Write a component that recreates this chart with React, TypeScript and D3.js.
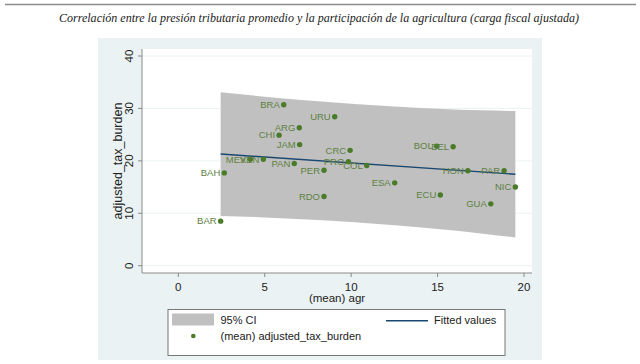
import React from "react";
import * as d3 from "d3";

// country codes, (mean) agr, (mean) adjusted_tax_burden
const countries = ["BRA", "ARG", "CHI", "JAM", "MEX", "VEN", "PAN", "BAH", "BAR", "PER", "RDO", "URU", "CRC", "PRO", "COL", "BOL", "BEL", "HON", "PAR", "ESA", "ECU", "NIC", "GUA"];
const agr = [6.1, 7.0, 5.83, 7.02, 4.17, 4.92, 6.71, 2.66, 2.45, 8.43, 8.43, 9.05, 9.94, 9.84, 10.9, 14.95, 15.9, 16.75, 18.85, 12.52, 15.16, 19.5, 18.08];
const taxBurden = [30.7, 26.3, 24.9, 23.1, 20.3, 20.3, 19.5, 17.7, 8.5, 18.2, 13.2, 28.4, 22.0, 19.85, 19.1, 22.8, 22.7, 18.1, 18.1, 15.8, 13.5, 15.0, 11.8];

// fitted values and 95% CI
const fitX = [2.45, 19.5];
const fitY = [21.3, 17.45];
const ciX = [2.45, 5, 7.5, 10.2, 12.5, 15, 17.5, 19.5];
const ciUpper = [33.1, 32.24, 31.51, 30.83, 30.36, 29.95, 29.64, 29.5];
const ciLower = [9.5, 9.2, 8.81, 8.27, 7.7, 6.99, 6.16, 5.4];

const xTicks = [0, 5, 10, 15, 20];
const yTicks = [0, 10, 20, 30, 40];

const title = "Correlación entre la presión tributaria promedio y la participación de la agricultura (carga fiscal ajustada)";

export default function App() {
  const width = 640;
  const height = 364;
  const plot = { left: 142, right: 532, top: 49, bottom: 273 };

  const x = d3.scaleLinear().domain([0, 20]).range([178.3, 524]);
  const y = d3.scaleLinear().domain([0, 40]).range([265.7, 56]);

  const band = d3
    .area<number>()
    .x((d, i) => x(ciX[i]))
    .y0((d, i) => y(ciLower[i]))
    .y1((d, i) => y(ciUpper[i]))
    .curve(d3.curveMonotoneX);

  const fitLine = d3
    .line<number>()
    .x((d, i) => x(fitX[i]))
    .y((d) => y(d));

  const sans = "'Liberation Sans', Arial, sans-serif";
  const axisColor = "#8a8a8a";
  const dotColor = "#4a7b27";
  const labelColor = "#5e8040";

  return (
    <svg width={width} height={height} style={{ position: "absolute", left: 0, top: 0 }}>
      <rect width={width} height={height} fill="#fff" />
      <line x1={5} x2={636} y1={4.5} y2={4.5} stroke="#8c8c8c" strokeWidth={1.6} />
      <text
        x={319}
        y={22}
        textAnchor="middle"
        fontFamily="'Liberation Serif', 'Times New Roman', serif"
        fontStyle="italic"
        fontSize={12.5}
        fill="#222"
        textLength={520}
        lengthAdjust="spacingAndGlyphs"
      >
        {title}
      </text>

      {/* graph region */}
      <rect x={98} y={38} width={444} height={322} fill="#eaf2f3" />
      <rect x={plot.left} y={plot.top} width={plot.right - plot.left} height={plot.bottom - plot.top} fill="#fff" />

      {/* grid */}
      {yTicks.map((t) => (
        <line key={"g" + t} x1={plot.left} x2={plot.right} y1={y(t)} y2={y(t)} stroke="#eaf2f3" strokeWidth={1} />
      ))}

      {/* CI band and fit */}
      <path d={band(ciX) || ""} fill="#c0c0c0" />
      <path d={fitLine(fitY) || ""} fill="none" stroke="#1a476f" strokeWidth={1.4} />

      {/* points */}
      {countries.map((c, i) => (
        <g key={c}>
          <circle cx={x(agr[i])} cy={y(taxBurden[i])} r={2.7} fill={dotColor} />
          <text
            x={x(agr[i]) - 4}
            y={y(taxBurden[i]) + 3.3}
            textAnchor="end"
            fontFamily={sans}
            fontSize={9.5}
            fill={labelColor}
          >
            {c}
          </text>
        </g>
      ))}

      {/* axes */}
      <line x1={plot.left} x2={plot.left} y1={plot.top} y2={plot.bottom} stroke={axisColor} strokeWidth={1} />
      <line x1={plot.left} x2={plot.right} y1={plot.bottom} y2={plot.bottom} stroke={axisColor} strokeWidth={1} />
      {yTicks.map((t) => (
        <g key={"y" + t}>
          <line x1={plot.left - 4} x2={plot.left} y1={y(t)} y2={y(t)} stroke={axisColor} />
          <text
            transform={`translate(133,${y(t)}) rotate(-90)`}
            textAnchor="middle"
            fontFamily={sans}
            fontSize={11.5}
            fill="#222"
          >
            {t}
          </text>
        </g>
      ))}
      {xTicks.map((t) => (
        <g key={"x" + t}>
          <line x1={x(t)} x2={x(t)} y1={plot.bottom} y2={plot.bottom + 4} stroke={axisColor} />
          <text x={x(t)} y={291} textAnchor="middle" fontFamily={sans} fontSize={11.5} fill="#222">
            {t}
          </text>
        </g>
      ))}
      <text
        transform={`translate(122,${(plot.top + plot.bottom) / 2}) rotate(-90)`}
        textAnchor="middle"
        fontFamily={sans}
        fontSize={12.5}
        fill="#222"
      >
        adjusted_tax_burden
      </text>
      <text x={337} y={302} textAnchor="middle" fontFamily={sans} fontSize={11.5} fill="#222">
        (mean) agr
      </text>

      {/* legend */}
      <rect x={168} y={309.5} width={337} height={46} fill="#fff" stroke="#777" strokeWidth={1} />
      <rect x={172} y={313.5} width={42} height={12} fill="#c0c0c0" />
      <text x={220.5} y={324} fontFamily={sans} fontSize={11} fill="#222">95% CI</text>
      <line x1={386} x2={428} y1={320.7} y2={320.7} stroke="#1a476f" strokeWidth={1.4} />
      <text x={434} y={324} fontFamily={sans} fontSize={11} fill="#222">Fitted values</text>
      <circle cx={193.3} cy={336} r={2.3} fill={dotColor} />
      <text x={220.5} y={340} fontFamily={sans} fontSize={11} fill="#222">(mean) adjusted_tax_burden</text>
    </svg>
  );
}
